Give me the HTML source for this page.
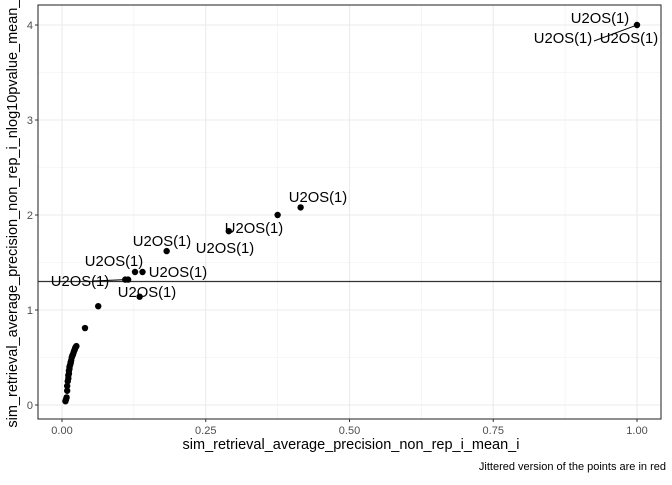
<!DOCTYPE html>
<html><head><meta charset="utf-8"><style>
body{margin:0;background:#fff;font-family:"Liberation Sans",Arial,sans-serif}
text{font-family:"Liberation Sans",Arial,sans-serif}
</style></head><body>
<svg id="c" width="672" height="480" xmlns="http://www.w3.org/2000/svg"></svg>
<script>
const xVals=[0.006,0.007,0.008,0.009,0.009,0.010,0.011,0.011,0.012,0.012,0.013,0.013,0.014,0.015,0.015,0.016,0.017,0.018,0.019,0.020,0.021,0.022,0.023,0.024,0.025,0.040,0.063,0.135,0.110,0.115,0.127,0.140,0.182,0.290,0.375,0.415,1.000];
const yVals=[0.04,0.06,0.08,0.15,0.20,0.25,0.28,0.31,0.33,0.36,0.38,0.40,0.42,0.45,0.44,0.47,0.50,0.52,0.53,0.55,0.57,0.58,0.60,0.61,0.62,0.81,1.04,1.14,1.32,1.32,1.40,1.40,1.62,1.83,2.00,2.08,4.00];
const xTicks=[0,0.25,0.5,0.75,1.0];
const xTickLabels=["0.00","0.25","0.50","0.75","1.00"];
const yTicks=[0,1,2,3,4];
const yTickLabels=["0","1","2","3","4"];
const hLine=1.30;
const svg=document.getElementById('c');
const NS="http://www.w3.org/2000/svg";
const L=38,R=661,T=5,B=419;
const sx=v=>62+v*575;
const sy=v=>405-v*95;
function el(t,a,p){const e=document.createElementNS(NS,t);for(const k in a)e.setAttribute(k,a[k]);(p||svg).appendChild(e);return e;}
const bg=el('rect',{x:L,y:T,width:R-L,height:B-T,fill:'#fff'});


for(let i=0;i<xTicks.length-1;i++){const m=(xTicks[i]+xTicks[i+1])/2;el('line',{x1:sx(m),x2:sx(m),y1:T,y2:B,stroke:'#f0f0f0','stroke-width':0.6});}
for(let i=0;i<yTicks.length-1;i++){const m=(yTicks[i]+yTicks[i+1])/2;el('line',{x1:L,x2:R,y1:sy(m),y2:sy(m),stroke:'#f0f0f0','stroke-width':0.6});}
xTicks.forEach((v,i)=>{
 el('line',{x1:sx(v),x2:sx(v),y1:T,y2:B,stroke:'#ebebeb','stroke-width':1.1});
 el('line',{x1:sx(v),x2:sx(v),y1:B,y2:B+3,stroke:'#333'});
 const t=el('text',{x:sx(v),y:B+15,'text-anchor':'middle','font-size':11,fill:'#4d4d4d'});t.textContent=xTickLabels[i];
 
 
});
yTicks.forEach((v,i)=>{
 el('line',{x1:L,x2:R,y1:sy(v),y2:sy(v),stroke:'#ebebeb','stroke-width':1.1});
 el('line',{x1:L-3,x2:L,y1:sy(v),y2:sy(v),stroke:'#333'});
 const t=el('text',{x:L-5,y:sy(v)+4,'text-anchor':'end','font-size':11,fill:'#4d4d4d'});t.textContent=yTickLabels[i];
 
 
});
const hl=el('line',{x1:L,x2:R,y1:sy(hLine),y2:sy(hLine),stroke:'#333','stroke-width':1.2});


el('line',{x1:93,y1:281,x2:sx(0.110),y2:sy(1.32),stroke:'#000'});
el('line',{x1:594,y1:41,x2:sx(1.0),y2:sy(4.0),stroke:'#000'});
xVals.forEach((x,i)=>{
 const c=el('circle',{cx:sx(x),cy:sy(yVals[i]),r:3.2,fill:'#000'});
 
 
});
const labels=[[600,23],[563,43],[629,43],[318,202],[254,233],[225,253],[162,246],[178,277],[80,286],[147,297],[114,266]];
labels.forEach(p=>{const t=el('text',{x:p[0],y:p[1],'text-anchor':'middle','font-size':14.8,fill:'#000'});t.textContent='U2OS(1)';
 
 });
el('rect',{x:L,y:T,width:R-L,height:B-T,fill:'none',stroke:'#333','stroke-width':1.1});
const xt=el('text',{x:351,y:449,'text-anchor':'middle','font-size':14.5,fill:'#000'});xt.textContent='sim_retrieval_average_precision_non_rep_i_mean_i';


const yt=el('text',{x:0,y:0,'text-anchor':'middle','font-size':14.5,fill:'#000',transform:`translate(17,${(T+B)/2}) rotate(-90)`});yt.textContent='sim_retrieval_average_precision_non_rep_i_nlog10pvalue_mean_i';


const cap=el('text',{x:666,y:470,'text-anchor':'end','font-size':11,fill:'#000'});cap.textContent='Jittered version of the points are in red';


</script>
</body></html>
